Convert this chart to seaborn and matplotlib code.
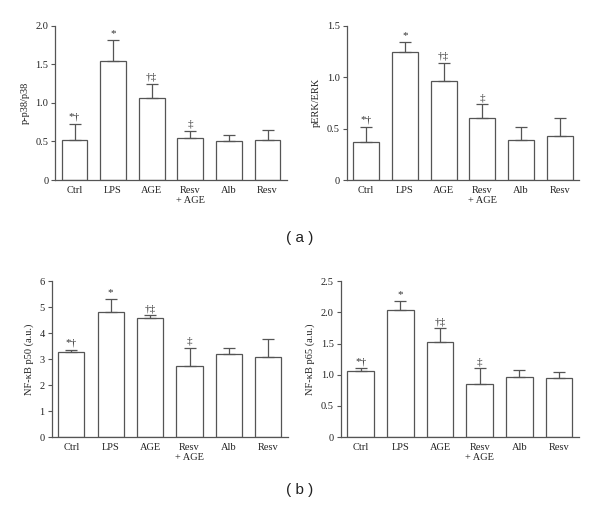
#!/usr/bin/env python3

import numpy as np
import pandas as pd
import seaborn as sns
import matplotlib
matplotlib.use("Agg")
import matplotlib.pyplot as plt

groups = ["Ctrl", "LPS", "AGE", "Resv\n+ AGE", "Alb", "Resv"]
marks = ["*\u2020", "*", "\u2020\u2021", "\u2021", "", ""]

p38_mean = [0.52, 1.54, 1.06, 0.54, 0.50, 0.52]
p38_top = [0.73, 1.82, 1.25, 0.64, 0.58, 0.65]

erk_mean = [0.37, 1.24, 0.96, 0.60, 0.39, 0.43]
erk_top = [0.52, 1.34, 1.14, 0.74, 0.52, 0.60]

p50_mean = [3.26, 4.80, 4.60, 2.75, 3.21, 3.09]
p50_top = [3.36, 5.33, 4.68, 3.44, 3.44, 3.77]

p65_mean = [1.06, 2.04, 1.52, 0.85, 0.97, 0.95]
p65_top = [1.10, 2.18, 1.75, 1.10, 1.08, 1.05]

sns.set_style("ticks")
plt.rcParams["font.family"] = ["Liberation Serif", "DejaVu Serif"]
line_col = "#555555"


def draw_panel(ax, means, tops, ylabel, ymax, yticks, ticklabels):
    df = pd.DataFrame({"group": groups, "value": means})
    sns.barplot(data=df, x="group", y="value", ax=ax, color="white",
                edgecolor=line_col, linewidth=0.9, width=0.67,
                errorbar=None, saturation=1)
    x = np.arange(len(groups))
    means = np.array(means)
    upper = np.array(tops) - means
    ax.errorbar(x, means, yerr=[np.zeros_like(upper), upper], fmt="none",
                ecolor=line_col, elinewidth=0.9, capsize=4.5, capthick=0.9)
    for xi, top, m in zip(x, tops, marks):
        if m:
            ax.text(xi, top + ymax * 0.012, m, ha="center", va="bottom",
                    fontsize=8, color="#333333")
    ax.set_xlim(-0.5, 5.5)
    ax.set_ylim(0, ymax)
    ax.set_yticks(yticks)
    ax.set_yticklabels(ticklabels)
    ax.set_xlabel("")
    ax.set_ylabel(ylabel, fontsize=7.5, color="#222222")
    ax.tick_params(axis="x", length=0, labelsize=7.5, colors="#222222", pad=4)
    ax.tick_params(axis="y", length=3, width=0.8, labelsize=7.5,
                   colors="#222222", pad=2)
    ax.tick_params(axis="y", color=line_col)
    sns.despine(ax=ax)
    for s in ["left", "bottom"]:
        ax.spines[s].set_color(line_col)
        ax.spines[s].set_linewidth(0.9)


fig = plt.figure(figsize=(6.0, 5.13), dpi=100)
ax1 = fig.add_axes([0.092, 0.649, 0.386, 0.301])
ax2 = fig.add_axes([0.578, 0.649, 0.387, 0.301])
ax3 = fig.add_axes([0.086, 0.148, 0.394, 0.304])
ax4 = fig.add_axes([0.568, 0.148, 0.397, 0.304])

draw_panel(ax1, p38_mean, p38_top, "p-p38/p38", 2.0,
           [0, 0.5, 1.0, 1.5, 2.0], ["0", "0.5", "1.0", "1.5", "2.0"])
draw_panel(ax2, erk_mean, erk_top, "pERK/ERK", 1.5,
           [0, 0.5, 1.0, 1.5], ["0", "0.5", "1.0", "1.5"])
draw_panel(ax3, p50_mean, p50_top, "NF-\u03baB p50 (a.u.)", 6,
           [0, 1, 2, 3, 4, 5, 6], ["0", "1", "2", "3", "4", "5", "6"])
draw_panel(ax4, p65_mean, p65_top, "NF-\u03baB p65 (a.u.)", 2.5,
           [0, 0.5, 1.0, 1.5, 2.0, 2.5],
           ["0", "0.5", "1.0", "1.5", "2.0", "2.5"])

fig.text(0.5, 1 - 238 / 513, "( a )", ha="center", va="center",
         fontsize=11, family="Liberation Sans", color="#222222")
fig.text(0.5, 1 - 490 / 513, "( b )", ha="center", va="center",
         fontsize=11, family="Liberation Sans", color="#222222")

fig.savefig("out.png", dpi=100)
